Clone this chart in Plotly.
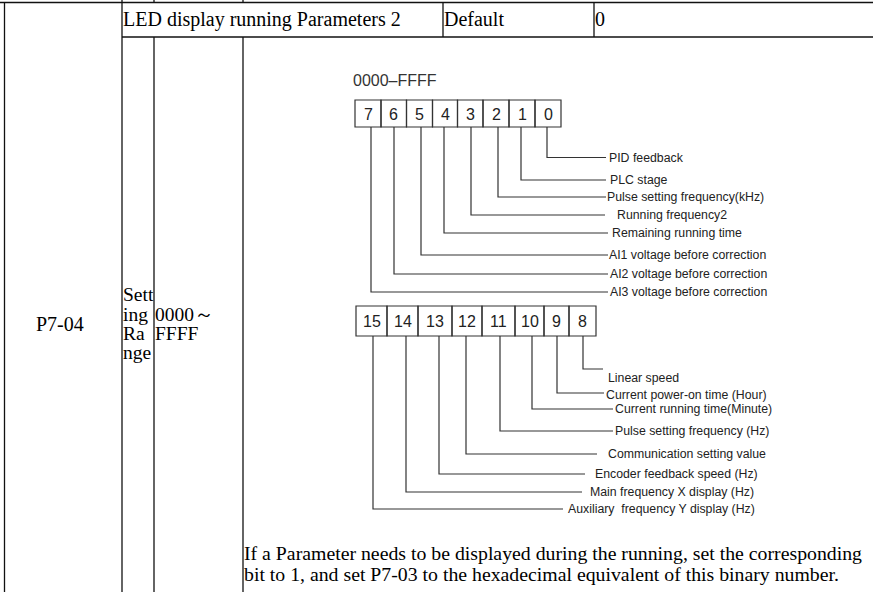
import plotly.graph_objects as go

# ---- content ----
param_code = "P7-04"
param_name = "LED display running Parameters 2"
default_label = "Default"
default_value = "0"
range_label = ["Sett", "ing", "Ra", "nge"]
range_value = ["0000～", "FFFF"]
diagram_title = "0000–FFFF"
bits_top = ["7", "6", "5", "4", "3", "2", "1", "0"]
labels_top = [
    "AI3 voltage before correction",
    "AI2 voltage before correction",
    "AI1 voltage before correction",
    "Remaining running time",
    "Running frequency2",
    "Pulse setting frequency(kHz)",
    "PLC stage",
    "PID feedback",
]
bits_bot = ["15", "14", "13", "12", "11", "10", "9", "8"]
labels_bot = [
    "Auxiliary  frequency Y display (Hz)",
    "Main frequency X display (Hz)",
    "Encoder feedback speed (Hz)",
    "Communication setting value",
    "Pulse setting frequency (Hz)",
    "Current running time(Minute)",
    "Current power-on time (Hour)",
    "Linear speed",
]
note_lines = [
    "If a Parameter needs to be displayed during the running, set the corresponding",
    "bit to 1, and set P7-03 to the hexadecimal equivalent of this binary number.",
]

# ---- layout geometry (pixels) ----
W, H = 873, 592
top_edges = [355, 381, 406.5, 432.5, 457.5, 483, 509, 535, 561]
top_box_y = (100, 127)
top_drop_x = [371, 394, 421, 444, 471, 498, 521, 547]
top_turn_y = [292, 274, 255, 233, 215, 197, 180, 157.5]
top_end_x = [608, 608, 608, 608, 605, 606, 606, 606]
top_lab_x = [609, 609, 608, 611, 616, 606, 609, 608]

bot_edges = [356, 387, 418, 452, 482, 515, 544, 569, 596]
bot_box_y = (306, 336)
bot_drop_x = [373, 406, 439, 466, 500, 532, 557, 583]
bot_turn_y = [509, 492, 474, 454, 431, 409, 393, 369]
bot_end_x = [563, 582, 585, 597, 613, 613, 604, 603]
bot_lab_x = [567, 589, 594, 607, 614, 614, 605, 607]
bot_lab_y = [509, 492, 474, 454, 431, 409, 395, 378]

SERIF = "Liberation Serif, Times New Roman, serif"
SANS = "Liberation Sans, Arial, sans-serif"
TABLE_COLOR = "#111111"
DIAG_COLOR = "#333333"

fig = go.Figure()

# connector lines
def connectors(drop_x, y0, turn_y, end_x):
    xs, ys = [], []
    for dx, ty, ex in zip(drop_x, turn_y, end_x):
        xs += [dx, dx, ex, None]
        ys += [y0, ty, ty, None]
    return xs, ys

for drop_x, box_y, turn_y, end_x in [
    (top_drop_x, top_box_y, top_turn_y, top_end_x),
    (bot_drop_x, bot_box_y, bot_turn_y, bot_end_x),
]:
    xs, ys = connectors(drop_x, box_y[1], turn_y, end_x)
    fig.add_trace(go.Scatter(x=xs, y=ys, mode="lines",
                             line=dict(color=DIAG_COLOR, width=1.2),
                             hoverinfo="skip", showlegend=False))

shapes = []
# bit boxes
for edges, (y0, y1) in [(top_edges, top_box_y), (bot_edges, bot_box_y)]:
    for a, b in zip(edges[:-1], edges[1:]):
        shapes.append(dict(type="rect", xref="x", yref="y", x0=a, x1=b, y0=y0, y1=y1,
                           line=dict(color=DIAG_COLOR, width=1.2)))

# table grid
def seg(x0, y0, x1, y1):
    shapes.append(dict(type="line", xref="x", yref="y", x0=x0, y0=y0, x1=x1, y1=y1,
                       line=dict(color=TABLE_COLOR, width=1.3)))

seg(0, 2.5, W, 2.5)
for x in (122, 154, 243):
    seg(x, 0, x, 2.5)
seg(4.5, 2.5, 4.5, H)
seg(122, 2.5, 122, H)
seg(443, 2.5, 443, 37)
seg(594, 2.5, 594, 37)
seg(122, 37, W, 37)
seg(154, 37, 154, H)
seg(243, 37, 243, H)

ann = []
def txt(x, y, s, size, family, color="#000000", xanchor="left"):
    ann.append(dict(x=x, y=y, xref="x", yref="y", text=s, showarrow=False,
                    xanchor=xanchor, yanchor="middle", borderpad=0,
                    font=dict(family=family, size=size, color=color)))

# table texts
txt(122, 19, param_name, 20, SERIF)
txt(443, 19, default_label, 20, SERIF)
txt(594, 19, default_value, 20, SERIF)
txt(60, 324, param_code, 20, SERIF, xanchor="center")
for s, y in zip(range_label, [294, 314, 333, 352]):
    txt(122, y, s, 19.5, SERIF)
for s, y in zip(range_value, [314, 333]):
    txt(154, y, s, 19.5, SERIF)
for s, y in zip(note_lines, [553, 574]):
    txt(243, y, s, 19.8, SERIF)

# diagram texts
txt(352, 80, diagram_title, 16, SANS, DIAG_COLOR)
for edges, (y0, y1), bits in [(top_edges, top_box_y, bits_top), (bot_edges, bot_box_y, bits_bot)]:
    for a, b, s in zip(edges[:-1], edges[1:], bits):
        txt((a + b) / 2, (y0 + y1) / 2 + 0.5, s, 16, SANS, "#222222", xanchor="center")
for s, x, y in zip(labels_top, top_lab_x, top_turn_y):
    txt(x, y, s, 12.3, SANS, "#222222")
for s, x, y in zip(labels_bot, bot_lab_x, bot_lab_y):
    txt(x, y, s, 12.3, SANS, "#222222")

fig.update_layout(
    width=W, height=H,
    margin=dict(l=0, r=0, t=0, b=0),
    paper_bgcolor="white", plot_bgcolor="white",
    xaxis=dict(range=[0, W], visible=False, fixedrange=True),
    yaxis=dict(range=[H, 0], visible=False, fixedrange=True),
    shapes=shapes, annotations=ann, showlegend=False,
)

fig.write_html("out.html", post_script="document.body.style.margin='0';",
               config={"displayModeBar": False})
